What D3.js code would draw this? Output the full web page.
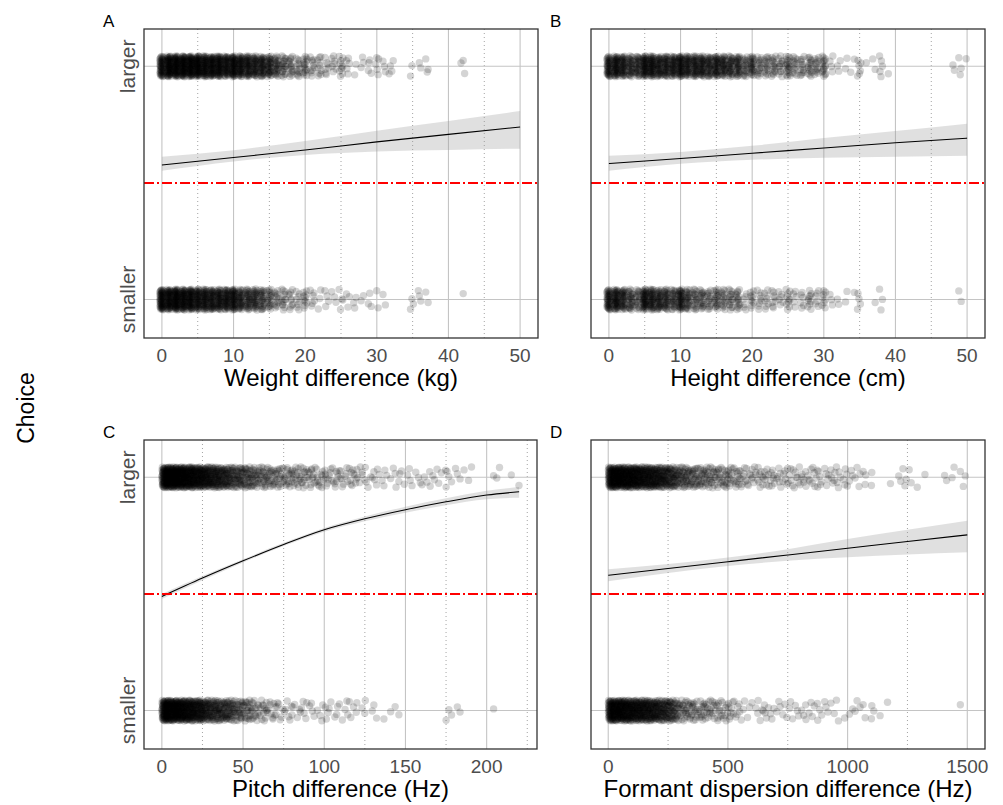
<!DOCTYPE html>
<html>
<head>
<meta charset="utf-8">
<script src="https://cdn.jsdelivr.net/npm/d3@7"></script>
<style>
  body { margin: 0; background: #fff; }
  svg { font-family: "Liberation Sans", Arial, sans-serif; }
</style>
</head>
<body>
<svg width="1003" height="805"></svg>
<script>
// Observed choices per x value (count of trials), read off the jitter strips
// A: weight difference, 1 kg steps from 0
const weightLarger = [48,64,64,64,64,64,56,56,56,48, 56,48,45,40,40,35,26,20,16,13,
  16,10,10,7,7,10,5,2,3,4, 5,3,4,0,0,2,2,3,0,0, 0,0,3];
const weightSmaller = [56,56,64,56,56,48,48,45,45,45, 48,35,32,32,26,20,13,13,10,8,
  10,6,3,4,3,4,3,3,2,3, 2,2,0,0,0,3,3,2,0,0, 0,0,1];
// B: height difference, 1 cm steps from 0
const heightLarger = [40,48,40,32,32,48,48,40,40,40, 48,40,40,40,35,40,35,32,32,20,
  26,16,16,16,13,20,13,13,16,13, 16,4,3,2,2,6,1,2,5,1, 0,0,0,0,0,0,0,0,2,3, 1];
const heightSmaller = [40,45,35,26,20,45,40,35,32,26, 40,26,20,20,16,20,16,16,16,6,
  10,8,8,8,6,10,5,6,10,6, 8,3,2,2,1,4,0,1,3,0, 0,0,0,0,0,0,0,0,0,2];
// C: pitch difference, 5 Hz bins from 0
const pitchLarger = [96,96,88,80,72,64,56,48,40,35, 30,26,22,20,17,16,16,14,13,11,
  10,10,8,10,7,5,5,4,4,4, 4,3,4,4,3,4,3,2,1,0, 1,2,0,2];
const pitchSmaller = [96,88,80,72,64,50,44,40,35,26, 22,16,13,10,7,6,5,6,4,4,
  5,4,4,4,3,2,2,1,2,1, 0,0,0,0,0,3,2,0,0,0, 1];
// D: formant dispersion difference, 25 Hz bins from 0
const formantLarger = [64,64,60,58,56,50,48,45,42,38, 32,26,22,20,18,16,16,14,13,13,
  11,11,8,7,7,8,7,7,6,6, 6,6,6,5,6,5,5,5,5,5, 3,3,3,2,1,0,0,1,2,3, 2,1,1,0,0,0,2,2,1,2];
const formantSmaller = [64,60,58,54,50,48,45,42,38,35, 30,20,15,14,13,11,11,10,10,8,
  8,6,3,2,3,4,4,3,3,3, 3,3,3,3,3,3,3,2,2,1, 2,2,3,1,2,1,1,0,0,0, 0,0,0,0,0,0,0,0,1];

// Fitted probability of choosing "larger" with confidence band
const weightFitX = [0, 10, 20, 30, 40, 50];
const weightFit = [0.577, 0.609, 0.641, 0.676, 0.708, 0.740];
const weightLow = [0.552, 0.592, 0.620, 0.635, 0.641, 0.647];
const weightHigh = [0.612, 0.640, 0.680, 0.724, 0.766, 0.808];

const heightFitX = [0, 10, 20, 30, 40, 50];
const heightFit = [0.583, 0.605, 0.627, 0.650, 0.672, 0.692];
const heightLow = [0.552, 0.582, 0.599, 0.608, 0.612, 0.616];
const heightHigh = [0.616, 0.633, 0.659, 0.693, 0.723, 0.754];

const pitchFitX = [0, 25, 50, 75, 100, 125, 150, 175, 200, 220];
const pitchFit = [0.489, 0.568, 0.642, 0.712, 0.775, 0.822, 0.861, 0.895, 0.924, 0.938];
const pitchLow = [0.478, 0.559, 0.635, 0.705, 0.767, 0.812, 0.848, 0.880, 0.906, 0.912];
const pitchHigh = [0.500, 0.577, 0.649, 0.719, 0.783, 0.832, 0.874, 0.910, 0.942, 0.958];

const formantFitX = [0, 250, 500, 750, 1000, 1250, 1500];
const formantFit = [0.580, 0.609, 0.638, 0.667, 0.696, 0.725, 0.753];
const formantLow = [0.554, 0.590, 0.620, 0.642, 0.657, 0.669, 0.679];
const formantHigh = [0.606, 0.628, 0.656, 0.692, 0.735, 0.775, 0.814];

// Tick values
const weightTicks = [0, 10, 20, 30, 40, 50];
const weightMinor = [5, 15, 25, 35, 45];
const pitchTicks = [0, 50, 100, 150, 200];
const pitchMinor = [25, 75, 125, 175, 225];
const formantTicks = [0, 500, 1000, 1500];
const formantMinor = [250, 750, 1250];
const choiceLabels = ["smaller", "larger"];

// Layout
const panels = [
  {id: "A", left: 144, right: 538, top: 29, bottom: 338, xDomain: [-2.5, 52.5],
   ticks: weightTicks, minor: weightMinor, title: "Weight difference (kg)",
   larger: weightLarger, smaller: weightSmaller, bin: 1, discrete: true,
   fitX: weightFitX, fit: weightFit, low: weightLow, high: weightHigh, yLabels: true},
  {id: "B", left: 591, right: 985, top: 29, bottom: 338, xDomain: [-2.5, 52.5],
   ticks: weightTicks, minor: weightMinor, title: "Height difference (cm)",
   larger: heightLarger, smaller: heightSmaller, bin: 1, discrete: true,
   fitX: heightFitX, fit: heightFit, low: heightLow, high: heightHigh, yLabels: false},
  {id: "C", left: 144, right: 537, top: 440, bottom: 749, xDomain: [-11, 231],
   ticks: pitchTicks, minor: pitchMinor, title: "Pitch difference (Hz)",
   larger: pitchLarger, smaller: pitchSmaller, bin: 5, discrete: false,
   fitX: pitchFitX, fit: pitchFit, low: pitchLow, high: pitchHigh, yLabels: true},
  {id: "D", left: 591, right: 985, top: 440, bottom: 749, xDomain: [-72, 1574],
   ticks: formantTicks, minor: formantMinor, title: "Formant dispersion difference (Hz)",
   larger: formantLarger, smaller: formantSmaller, bin: 25, discrete: false,
   fitX: formantFitX, fit: formantFit, low: formantLow, high: formantHigh, yLabels: false}
];

const jitterHeight = 0.045;

// Halton sequence, used as a fixed (non-random) jitter layout
function halton(index, base) {
  let f = 1, r = 0, n = index;
  while (n > 0) {
    f /= base;
    r += f * (n % base);
    n = Math.floor(n / base);
  }
  return r;
}

// spread the counted trials over their strip
function strip(counts, bin, discrete, value) {
  const pts = [];
  counts.forEach((n, i) => {
    for (let k = 0; k < n; k++) {
      const idx = k + 1 + i * 37;
      const u = halton(idx, 2);
      const v = halton(idx, 3);
      const x = discrete ? i + (v - 0.5) * 0.6 : (i + v) * bin;
      pts.push({x: x, y: value + (u * 2 - 1) * jitterHeight});
    }
  });
  return pts;
}

const svg = d3.select("svg");

panels.forEach(p => {
  const x = d3.scaleLinear().domain(p.xDomain).range([p.left, p.right]);
  const y = d3.scaleLinear().domain([-0.165, 1.16]).range([p.bottom, p.top]);
  const g = svg.append("g");

  // grid
  g.selectAll(".minor").data(p.minor).enter().append("line")
    .attr("x1", d => x(d)).attr("x2", d => x(d))
    .attr("y1", p.top).attr("y2", p.bottom)
    .attr("stroke", "#8c8c8c").attr("stroke-width", 0.8)
    .attr("stroke-dasharray", "1,3");
  g.selectAll(".major").data(p.ticks).enter().append("line")
    .attr("x1", d => x(d)).attr("x2", d => x(d))
    .attr("y1", p.top).attr("y2", p.bottom)
    .attr("stroke", "#c4c4c4").attr("stroke-width", 1.1);
  g.selectAll(".hgrid").data([0, 1]).enter().append("line")
    .attr("x1", p.left).attr("x2", p.right)
    .attr("y1", d => y(d)).attr("y2", d => y(d))
    .attr("stroke", "#c4c4c4").attr("stroke-width", 1.1);

  // confidence band + fitted line
  const fitData = p.fitX.map((v, i) => ({x: v, fit: p.fit[i], low: p.low[i], high: p.high[i]}));
  g.append("path")
    .datum(fitData)
    .attr("fill", "#999").attr("fill-opacity", 0.3)
    .attr("d", d3.area().curve(d3.curveMonotoneX)
      .x(d => x(d.x)).y0(d => y(d.low)).y1(d => y(d.high)));
  g.append("path")
    .datum(fitData)
    .attr("fill", "none").attr("stroke", "#000").attr("stroke-width", 1.1)
    .attr("d", d3.line().curve(d3.curveMonotoneX).x(d => x(d.x)).y(d => y(d.fit)));

  // chance level
  g.append("line")
    .attr("x1", p.left).attr("x2", p.right)
    .attr("y1", y(0.5)).attr("y2", y(0.5))
    .attr("stroke", "#ff0000").attr("stroke-width", 2)
    .attr("stroke-dasharray", "10,3,2,3");

  // jittered trials
  const pts = strip(p.larger, p.bin, p.discrete, 1).concat(strip(p.smaller, p.bin, p.discrete, 0));
  g.append("g").selectAll("circle").data(pts).enter().append("circle")
    .attr("cx", d => x(d.x)).attr("cy", d => y(d.y))
    .attr("r", 3.7).attr("fill", "#000").attr("fill-opacity", 0.17);

  // frame
  g.append("rect")
    .attr("x", p.left).attr("y", p.top)
    .attr("width", p.right - p.left).attr("height", p.bottom - p.top)
    .attr("fill", "none").attr("stroke", "#333").attr("stroke-width", 1.3);

  // x tick labels
  g.selectAll(".xt").data(p.ticks).enter().append("text")
    .attr("x", d => x(d)).attr("y", p.bottom + 24)
    .attr("text-anchor", "middle")
    .attr("font-size", 19).attr("fill", "#4d4d4d")
    .text(d => d);

  // x title
  g.append("text")
    .attr("x", (p.left + p.right) / 2).attr("y", p.bottom + 48)
    .attr("text-anchor", "middle")
    .attr("font-size", 24).attr("fill", "#000")
    .text(p.title);

  // y labels
  if (p.yLabels) {
    g.selectAll(".yt").data(choiceLabels).enter().append("text")
      .attr("transform", (d, i) => `translate(${p.left - 9},${y(i)}) rotate(-90)`)
      .attr("text-anchor", "middle")
      .attr("font-size", 21).attr("fill", "#4d4d4d")
      .text(d => d);
  }

  // panel tag
  g.append("text")
    .attr("x", p.left - 41).attr("y", p.top - 2)
    .attr("font-size", 17).attr("fill", "#000")
    .text(p.id);
});

svg.append("text")
  .attr("transform", "translate(34,408) rotate(-90)")
  .attr("text-anchor", "middle")
  .attr("font-size", 23).attr("fill", "#000")
  .text("Choice");
</script>
</body>
</html>
